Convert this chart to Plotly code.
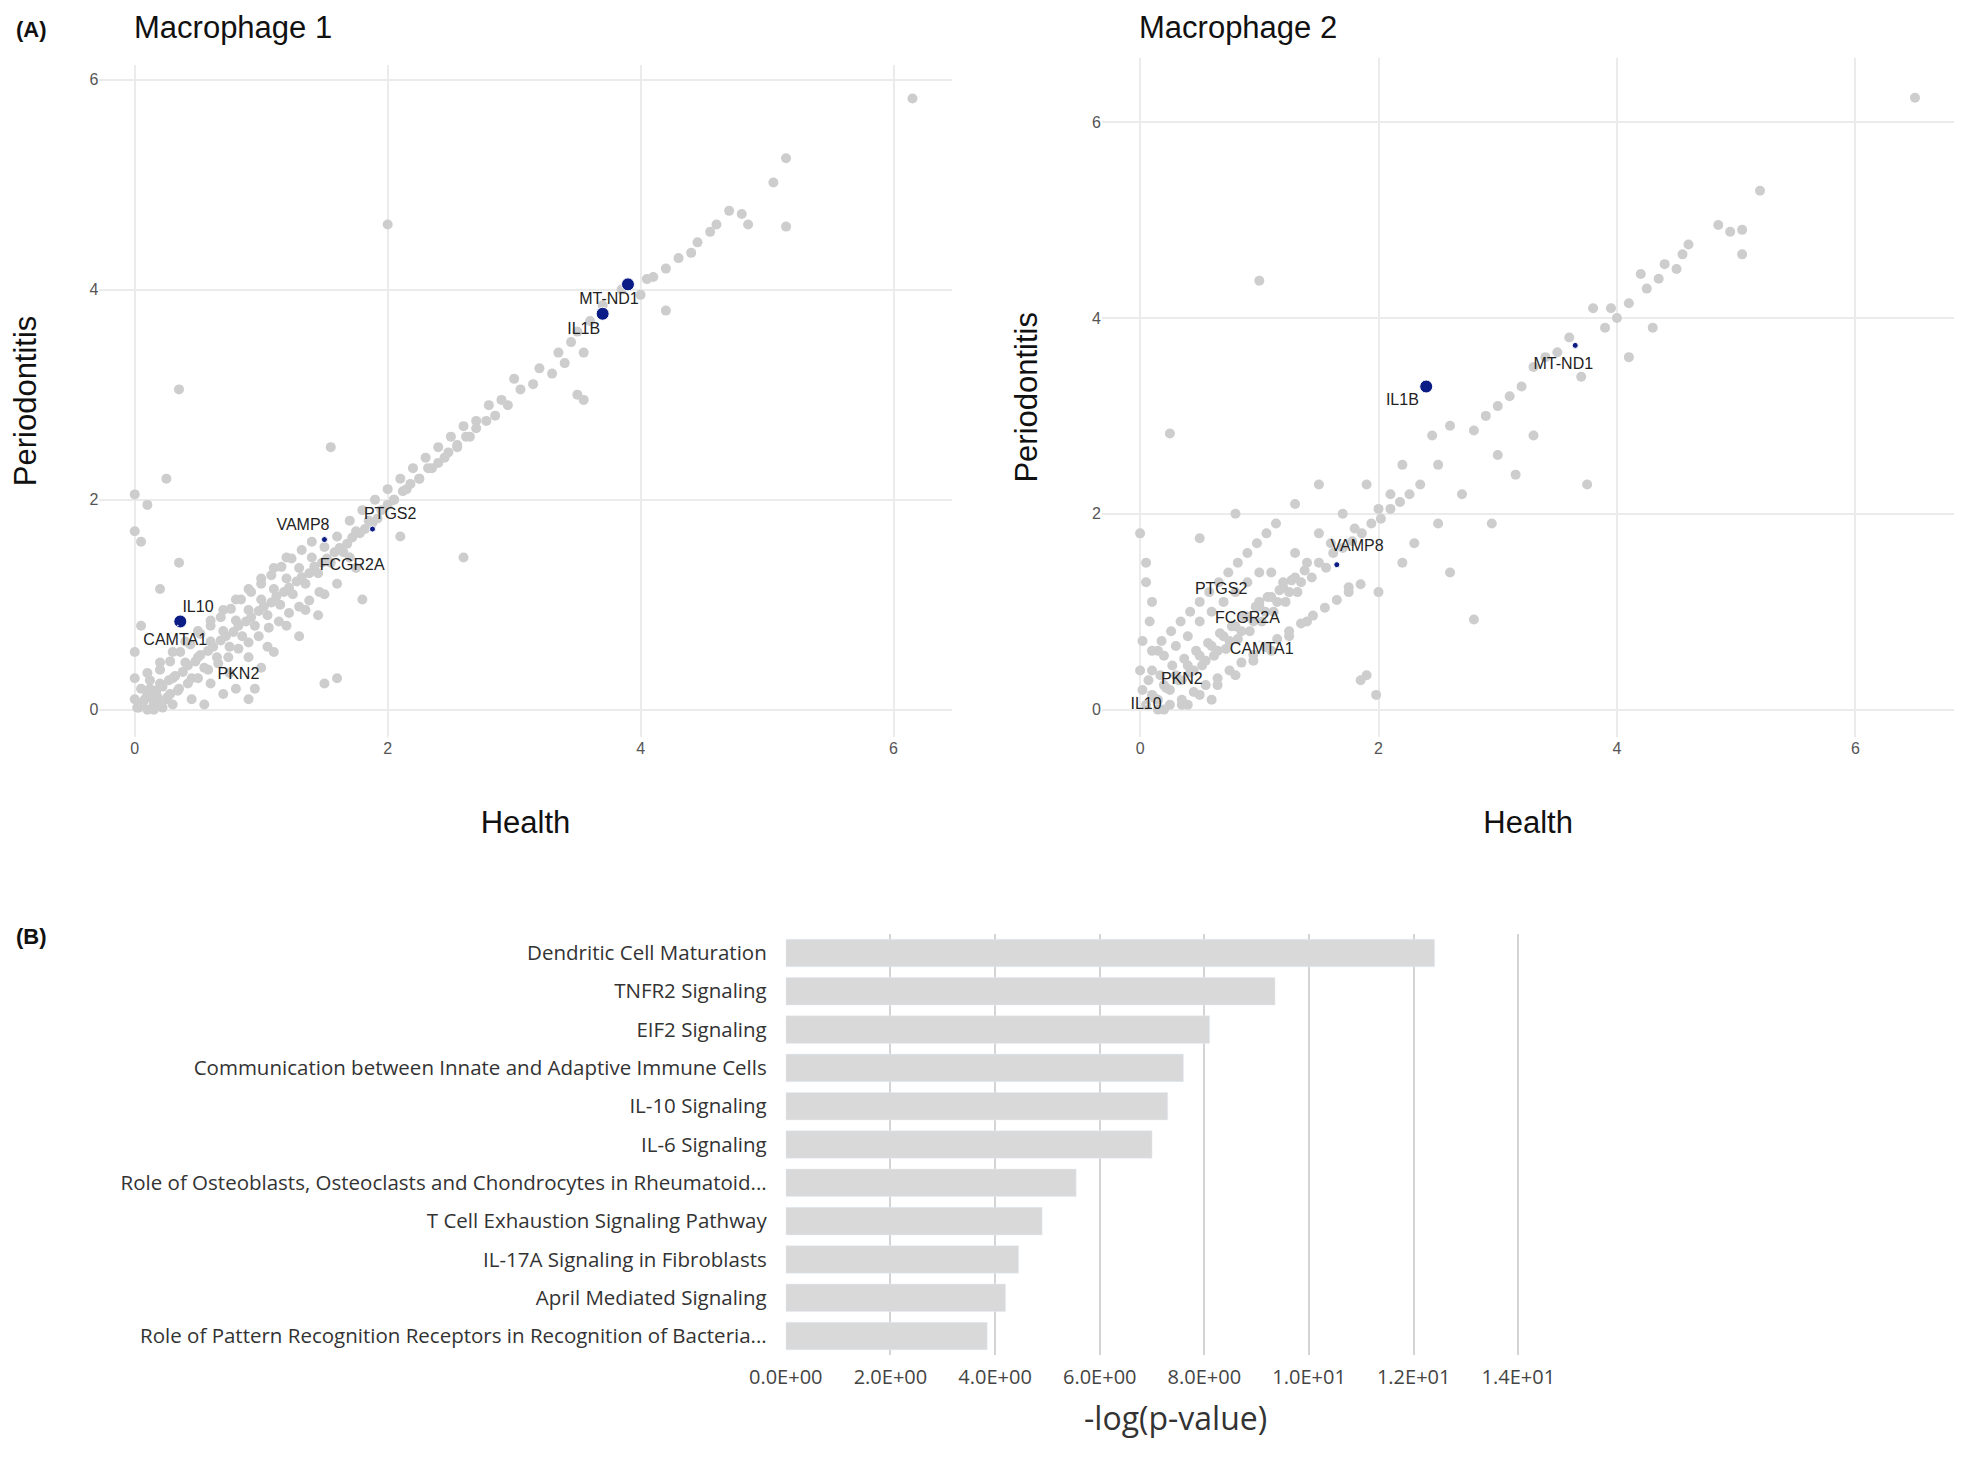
import plotly.graph_objects as go

# ---------------- data ----------------
m1_x = [6.15,5.15,5.05,5.15,4.8,4.7,4.85,4.6,4.55,4.45,4.4,4.3,4.2,4.1,4.05,4.2,4.0,3.85,3.7,3.6,3.5,3.45,3.55,3.4,3.35,3.3,3.2,3.15,3.05,3.0,2.95,3.5,3.55,2.9,2.85,2.8,2.7,2.65,2.6,2.55,2.5,2.45,2.4,2.35,2.3,2.25,2.2,2.15,2.1,2.05,2.0,1.95,1.9,1.85,1.8,1.75,1.7,2.0,0.35,0.25,0.0,0.1,0.0,0.05,0.35,0.2,2.6,1.55,1.5,1.6,2.1,1.8,0.9,0.95,
        0.05,0.1,0.15,0.2,0.25,0.3,0.35,0.4,0.45,0.5,0.55,0.6,0.65,0.7,0.75,0.8,0.85,0.9,0.95,1.0,1.05,1.1,1.15,1.2,1.25,1.3,1.35,1.4,1.45,1.5,1.55,1.6,1.65,0.1,0.2,0.3,0.4,0.5,0.6,0.7,0.8,0.9,1.0,1.1,1.2,0.15,0.3,0.45,0.6,0.75,0.9,1.05,1.2,1.35,1.5,0.0,0.0,0.05,0.55,0.7,0.8,1.0,1.1,1.3,1.45,1.6,1.75,1.7,0.02,0.08,0.12,0.18,0.22,0.28,
        0.0,0.03,0.07,0.12,0.17,0.22,0.27,0.32,0.38,0.42,0.48,0.52,0.58,0.62,0.68,0.72,0.78,0.82,0.88,0.92,0.98,1.02,1.08,1.12,1.18,1.22,1.28,1.32,1.38,1.42,1.48,1.52,1.58,1.62,1.68,1.72,1.78,1.82,1.88,1.92,2.0,2.05,2.12,2.18,2.25,2.32,2.4,2.48,2.55,2.62,2.7,2.78,
        0.05,0.12,0.2,0.28,0.36,0.44,0.52,0.6,0.68,0.76,0.84,0.92,1.0,1.08,1.16,1.24,1.32,1.4,0.1,0.18,0.26,0.34,0.42,0.5,0.58,0.66,0.74,0.82,0.9,0.98,1.06,1.14,1.22,1.3,1.38,1.46]
m1_y = [5.82,5.25,5.02,4.6,4.72,4.75,4.62,4.62,4.55,4.45,4.35,4.3,4.2,4.12,4.1,3.8,3.95,4.0,3.85,3.7,3.6,3.5,3.4,3.3,3.4,3.2,3.25,3.1,3.05,3.15,2.9,3.0,2.95,2.95,2.8,2.9,2.75,2.6,2.7,2.5,2.6,2.4,2.5,2.3,2.4,2.2,2.3,2.1,2.2,2.0,2.1,1.9,2.0,1.8,1.9,1.7,1.8,4.62,3.05,2.2,2.05,1.95,1.7,1.6,1.4,1.15,1.45,2.5,0.25,0.3,1.65,1.05,0.1,0.2,
        0.05,0.15,0.05,0.25,0.1,0.3,0.2,0.45,0.3,0.5,0.4,0.65,0.5,0.75,0.6,0.85,0.7,0.95,0.8,1.05,0.9,1.15,1.0,1.25,1.1,1.35,1.2,1.45,1.3,1.55,1.4,1.65,1.5,0.35,0.45,0.55,0.65,0.75,0.85,0.95,1.05,1.15,1.25,1.35,1.45,0.0,0.05,0.1,0.25,0.35,0.5,0.6,0.8,0.95,1.1,0.3,0.55,0.8,0.05,0.15,0.2,0.4,0.55,0.7,0.9,1.2,1.35,1.45,0.02,0.1,0.2,0.12,0.02,0.15,
        0.1,0.02,0.08,0.12,0.18,0.22,0.28,0.32,0.36,0.42,0.46,0.52,0.56,0.6,0.66,0.7,0.74,0.8,0.84,0.88,0.94,0.98,1.02,1.08,1.12,1.16,1.22,1.26,1.3,1.36,1.4,1.44,1.5,1.54,1.58,1.64,1.68,1.72,1.78,1.82,1.95,2.0,2.08,2.15,2.2,2.3,2.35,2.45,2.52,2.6,2.68,2.75,
        0.2,0.28,0.38,0.46,0.55,0.62,0.72,0.8,0.88,0.96,1.05,1.12,1.2,1.28,1.36,1.44,1.52,1.6,0.0,0.06,0.12,0.18,0.25,0.3,0.38,0.44,0.5,0.58,0.64,0.7,0.78,0.84,0.92,0.98,1.04,1.12]

m2_x = [6.5,5.2,5.05,4.95,4.85,5.05,4.6,4.55,4.5,4.4,4.35,4.25,4.2,4.1,4.0,3.95,3.9,3.8,4.3,4.1,3.75,3.7,3.6,3.5,3.4,3.3,3.2,3.1,3.0,2.9,2.8,3.3,3.15,2.8,1.0,0.25,2.5,2.6,2.45,2.35,2.2,2.1,2.0,1.9,1.8,1.7,1.6,1.5,1.4,1.3,1.2,1.1,1.0,2.3,2.5,2.6,2.95,1.9,1.98,1.85,0.0,0.05,0.05,0.1,0.5,0.8,1.3,1.5,2.7,3.0,2.2,2.0,1.75,
        0.05,0.1,0.15,0.2,0.25,0.3,0.35,0.4,0.45,0.5,0.55,0.6,0.65,0.7,0.75,0.8,0.85,0.9,0.95,1.0,1.05,1.1,1.15,1.2,1.25,1.3,1.35,0.1,0.2,0.3,0.4,0.5,0.6,0.7,0.8,0.9,1.0,0.2,0.35,0.5,0.65,0.8,0.95,1.1,1.25,1.4,0.0,0.02,0.08,0.15,0.4,0.6,
        0.02,0.07,0.12,0.17,0.22,0.27,0.32,0.37,0.42,0.47,0.52,0.57,0.62,0.67,0.72,0.77,0.82,0.87,0.92,0.97,1.02,1.07,1.12,1.17,1.22,1.27,1.32,1.38,1.44,1.5,1.56,1.62,1.7,1.78,1.86,1.94,2.02,2.1,2.18,2.26,
        0.1,0.18,0.26,0.34,0.42,0.5,0.58,0.66,0.74,0.82,0.9,0.98,1.06,1.14,0.15,0.25,0.35,0.45,0.55,0.65,0.75,0.85,0.95,1.05,1.15,1.25,1.35,1.45,1.55,1.65,1.75,1.85]
m2_y = [6.25,5.3,4.9,4.88,4.95,4.65,4.75,4.65,4.5,4.55,4.4,4.3,4.45,4.15,4.0,4.1,3.9,4.1,3.9,3.6,2.3,3.4,3.8,3.65,3.6,3.5,3.3,3.2,3.1,3.0,2.85,2.8,2.4,0.92,4.38,2.82,2.5,2.9,2.8,2.3,2.5,2.2,2.05,2.3,1.85,2.0,1.7,1.8,1.5,1.6,1.3,1.4,1.1,1.7,1.9,1.4,1.9,0.35,0.15,0.3,1.8,1.5,1.3,1.1,1.75,2.0,2.1,2.3,2.2,2.6,1.5,1.2,1.25,
        0.05,0.15,0.1,0.25,0.2,0.35,0.3,0.45,0.4,0.55,0.5,0.65,0.6,0.75,0.7,0.85,0.8,0.95,0.9,1.05,1.0,1.15,1.1,1.25,1.2,1.35,1.3,0.4,0.55,0.65,0.75,0.9,1.0,1.1,1.2,1.3,1.4,0.0,0.05,0.15,0.25,0.35,0.5,0.6,0.75,0.9,0.4,0.7,0.9,0.6,0.05,0.1,
        0.2,0.3,0.12,0.35,0.22,0.45,0.3,0.52,0.38,0.6,0.45,0.68,0.55,0.78,0.62,0.85,0.72,0.95,0.8,1.05,0.9,1.15,1.0,1.22,1.1,1.32,1.2,1.42,1.35,1.5,1.45,1.6,1.65,1.72,1.8,1.9,1.95,2.05,2.12,2.2,
        0.6,0.7,0.8,0.9,1.0,1.1,1.2,1.3,1.4,1.5,1.6,1.7,1.8,1.9,0.0,0.05,0.1,0.18,0.25,0.32,0.4,0.48,0.56,0.64,0.72,0.8,0.88,0.96,1.04,1.12,1.2,1.28]

m1_genes = ["MT-ND1","IL1B","VAMP8","PTGS2","FCGR2A","IL10","CAMTA1","PKN2"]
m1_gx = [3.9,3.7,1.5,1.88,1.7,0.36,0.34,0.85]
m1_gy = [4.05,3.77,1.62,1.72,1.5,0.84,0.8,0.4]
m1_lx = [3.75,3.55,1.33,2.02,1.72,0.5,0.32,0.82]
m1_ly = [3.9,3.62,1.75,1.85,1.37,0.97,0.65,0.33]

m2_genes = ["IL1B","MT-ND1","VAMP8","PTGS2","FCGR2A","CAMTA1","PKN2","IL10"]
m2_gx = [2.4,3.65,1.65,0.7,0.9,1.0,0.35,0.05]
m2_gy = [3.3,3.72,1.48,1.3,1.0,0.7,0.35,0.05]
m2_lx = [2.2,3.55,1.82,0.68,0.9,1.02,0.35,0.05]
m2_ly = [3.15,3.52,1.66,1.22,0.93,0.61,0.3,0.05]

pathways = ["Dendritic Cell Maturation","TNFR2 Signaling","EIF2 Signaling",
            "Communication between Innate and Adaptive Immune Cells","IL-10 Signaling",
            "IL-6 Signaling","Role of Osteoblasts, Osteoclasts and Chondrocytes in Rheumatoid...",
            "T Cell Exhaustion Signaling Pathway","IL-17A Signaling in Fibroblasts",
            "April Mediated Signaling","Role of Pattern Recognition Receptors in Recognition of Bacteria..."]
logp = [12.4,9.35,8.1,7.6,7.3,7.0,5.55,4.9,4.45,4.2,3.85]
bar_tickvals = [0,2,4,6,8,10,12,14]
bar_ticktext = ["0.0E+00","2.0E+00","4.0E+00","6.0E+00","8.0E+00","1.0E+01","1.2E+01","1.4E+01"]

# ---------------- figure ----------------
fig = go.Figure()
GREY = "#cdcdcd"; BLUE = "#0b1c86"
fig.add_trace(go.Scatter(x=m1_x, y=m1_y, mode="markers", marker=dict(color=GREY, size=10, opacity=1),
                         xaxis="x", yaxis="y", showlegend=False))
fig.add_trace(go.Scatter(x=m1_gx, y=m1_gy, mode="markers", marker=dict(color=BLUE, opacity=1, size=[13,13,6,6,1,13,1,1]),
                         xaxis="x", yaxis="y", showlegend=False))
fig.add_trace(go.Scatter(x=m2_x, y=m2_y, mode="markers", marker=dict(color=GREY, size=10, opacity=1),
                         xaxis="x2", yaxis="y2", showlegend=False))
fig.add_trace(go.Scatter(x=m2_gx, y=m2_gy, mode="markers", marker=dict(color=BLUE, opacity=1, size=[13,6,6,1,1,1,1,1]),
                         xaxis="x2", yaxis="y2", showlegend=False))
fig.add_trace(go.Scatter(x=m1_lx, y=m1_ly, mode="text", text=m1_genes, textfont=dict(size=16, color="#222"),
                         xaxis="x", yaxis="y", showlegend=False))
fig.add_trace(go.Scatter(x=m2_lx, y=m2_ly, mode="text", text=m2_genes, textfont=dict(size=16, color="#222"),
                         xaxis="x2", yaxis="y2", showlegend=False))
fig.add_trace(go.Bar(x=logp, y=pathways, orientation="h", marker=dict(color="#d9d9d9"),
                     width=0.72, xaxis="x3", yaxis="y3", showlegend=False))

ax_common = dict(showgrid=True, gridcolor="#ebebeb", gridwidth=1.5, zeroline=False, showline=False,
                 tickfont=dict(size=16, color="#555"), ticks="", tickvals=[0,2,4,6], automargin=False)
sfont = dict(family="Liberation Sans, Arial", size=31, color="#111")
fig.update_layout(
    width=1964, height=1458, paper_bgcolor="white", plot_bgcolor="white",
    margin=dict(l=0, r=0, t=0, b=0), font=dict(family="Liberation Sans, Arial"),
    xaxis=dict(domain=[0.0465, 0.4805], range=[-0.28, 6.46], anchor="y",
               title=dict(text="Health", font=sfont, standoff=55), **ax_common),
    yaxis=dict(domain=[0.5, 0.961], range=[-0.26, 6.14], anchor="x",
               title=dict(text="Periodontitis", font=sfont, standoff=45), **ax_common),
    xaxis2=dict(domain=[0.557, 0.991], range=[-0.32, 6.83], anchor="y2",
                title=dict(text="Health", font=sfont, standoff=55), **ax_common),
    yaxis2=dict(domain=[0.5, 0.966], range=[-0.28, 6.66], anchor="x2",
                title=dict(text="Periodontitis", font=sfont, standoff=45), **ax_common),
    xaxis3=dict(domain=[0.396, 0.793], range=[0, 14.9], anchor="y3", tickvals=bar_tickvals,
                ticktext=bar_ticktext, showgrid=True, gridcolor="#d4d4d4", gridwidth=2,
                zeroline=False, showline=False, ticks="", automargin=False, ticklabelstandoff=8,
                tickfont=dict(family="Open Sans", size=20, color="#444"),
                title=dict(text="-log(p-value)", font=dict(family="Open Sans", size=32, color="#333"), standoff=18)),
    yaxis3=dict(domain=[0.076, 0.365], anchor="x3", autorange="reversed", ticks="", automargin=False,
                tickfont=dict(family="Open Sans", size=20.5, color="#333"), ticklabelstandoff=18,
                showgrid=False),
    bargap=0.28,
    annotations=[
        dict(text="Macrophage 1", x=0.063, y=1.0, xref="paper", yref="paper", xanchor="left", yanchor="top",
             showarrow=False, font=dict(size=31, color="#111")),
        dict(text="Macrophage 2", x=0.575, y=1.0, xref="paper", yref="paper", xanchor="left", yanchor="top",
             showarrow=False, font=dict(size=31, color="#111")),
        dict(text="<b>(A)</b>", x=0.003, y=0.995, xref="paper", yref="paper", xanchor="left", yanchor="top",
             showarrow=False, font=dict(size=22, color="#111")),
        dict(text="<b>(B)</b>", x=0.003, y=0.373, xref="paper", yref="paper", xanchor="left", yanchor="top",
             showarrow=False, font=dict(size=22, color="#111")),
    ],
)
fig.write_html("out.html")
